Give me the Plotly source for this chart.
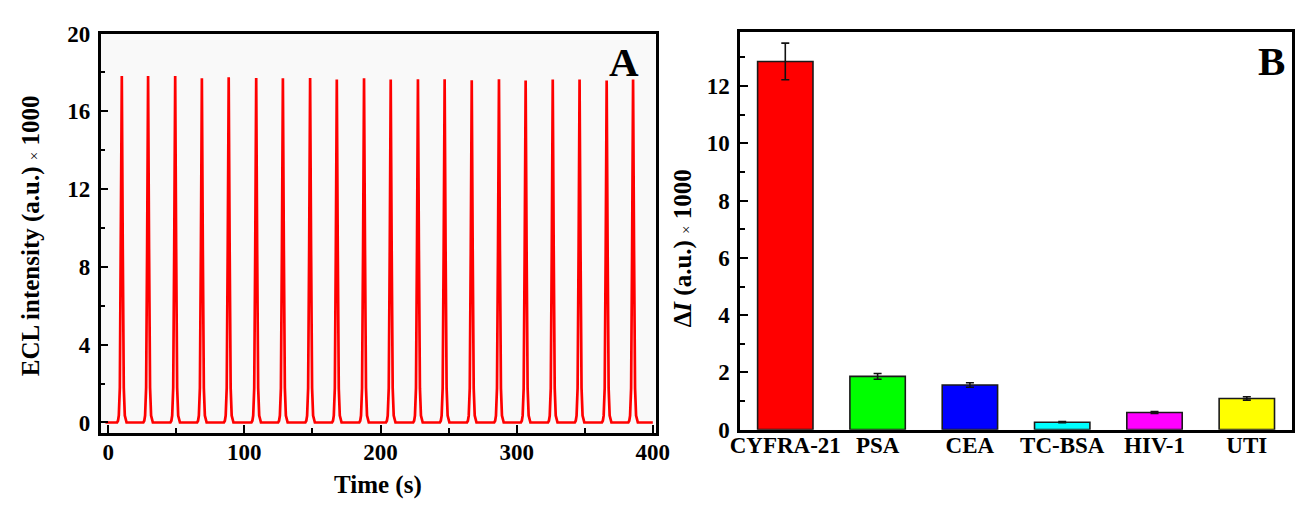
import plotly.graph_objects as go

# ---------------- Data ----------------
# Panel A: ECL peaks (time in s, peak intensity x1000)
peak_times = [10.0, 29.3, 49.2, 68.8, 88.5, 108.7, 128.3, 148.3, 167.9, 187.9,
              207.5, 227.5, 247.1, 267.0, 287.0, 306.6, 326.5, 346.2, 366.1, 385.5]
peak_heights = [17.82, 17.82, 17.82, 17.70, 17.76, 17.72, 17.70, 17.72, 17.64, 17.70,
                17.64, 17.65, 17.65, 17.60, 17.65, 17.59, 17.64, 17.64, 17.59, 17.64]
# peak profile: time offset (s) and fraction of peak height
profile_offsets = [-3.5, -2.8, -2.2, -1.45, -0.72, 0.0, 0.72, 1.45, 2.2, 2.8, 3.5]
profile_fracs = [0.0, 0.005, 0.02, 0.1, 0.5, 1.0, 0.5, 0.1, 0.02, 0.005, 0.0]
baseline_level = 0.0
time_start, time_end = -2.0, 400.0

# Panel B: selectivity bars
categories = ["CYFRA-21", "PSA", "CEA", "TC-BSA", "HIV-1", "UTI"]
delta_i = [12.86, 1.86, 1.56, 0.26, 0.60, 1.09]
delta_err = [0.64, 0.10, 0.08, 0.02, 0.03, 0.06]
bar_colors = ["#ff0000", "#00ff00", "#0000ff", "#00ffff", "#ff00ff", "#ffff00"]

# build the A trace
xs = [time_start]
ys = [baseline_level]
for t0, h in zip(peak_times, peak_heights):
    for dx, f in zip(profile_offsets, profile_fracs):
        xs.append(t0 + dx)
        ys.append(baseline_level + f * h)
xs.append(time_end)
ys.append(baseline_level)

W, H = 1309, 514


def px(v):
    return v / W


def py(v):
    return 1 - v / H


FONT = "Liberation Serif"

fig = go.Figure()
fig.add_trace(go.Scatter(x=xs, y=ys, mode="lines",
                         line=dict(color="#ff0000", width=2.7),
                         xaxis="x", yaxis="y", showlegend=False,
                         hoverinfo="skip"))
fig.add_trace(go.Bar(x=list(range(len(categories))), y=delta_i,
                     marker=dict(color=bar_colors, line=dict(color="#1a1a1a", width=1.6)),
                     width=0.6,
                     error_y=dict(type="data", array=delta_err, color="#111111",
                                  thickness=1.6, width=4),
                     xaxis="x2", yaxis="y2", showlegend=False))

tickfont = dict(family=FONT, size=23, color="black", weight="bold")
common = dict(showline=True, linecolor="black", linewidth=2.5, mirror=True,
              ticks="inside", tickcolor="black", tickwidth=2, ticklen=8,
              showgrid=False, zeroline=False, tickfont=tickfont)

fig.update_layout(
    width=W, height=H,
    margin=dict(l=0, r=0, t=0, b=0),
    paper_bgcolor="white",
    plot_bgcolor="#f9f9f9",
    xaxis=dict(domain=[px(92.4), px(657.6)], range=[-5.5, 402], anchor="y",
               tickvals=[0, 100, 200, 300, 400], ticklabelstandoff=-4,
               minor=dict(tickvals=[50, 150, 250, 350], ticks="inside",
                          ticklen=5, tickwidth=2, tickcolor="black"),
               **common),
    yaxis=dict(domain=[py(442.7), py(22.7)], range=[-0.55, 20], anchor="x",
               tickvals=[0, 4, 8, 12, 16, 20], ticklabelstandoff=3,
               minor=dict(tickvals=[2, 6, 10, 14, 18], ticks="inside",
                          ticklen=5, tickwidth=2, tickcolor="black"),
               **common),
    xaxis2=dict(domain=[px(743.7), px(1306.0)], range=[-0.49, 5.49], anchor="y2",
                tickvals=list(range(len(categories))), ticktext=categories,
                ticklabelstandoff=-7,
                **{**common, "ticks": ""}),
    yaxis2=dict(domain=[py(439.0), py(20.7)], range=[0, 13.9], anchor="x2",
                tickvals=[0, 2, 4, 6, 8, 10, 12], ticklabelstandoff=3,
                minor=dict(tickvals=[1, 3, 5, 7, 9, 11, 13], ticks="inside",
                           ticklen=5, tickwidth=2, tickcolor="black"),
                **common),
)

# panel B white background
fig.add_shape(type="rect", xref="x2 domain", yref="y2 domain", x0=0, x1=1, y0=0, y1=1,
              fillcolor="white", line=dict(width=0), layer="below")

title_font = dict(family=FONT, size=25, color="black", weight="bold")
fig.add_annotation(text="Time (s)", xref="paper", yref="paper",
                   x=px(375), y=py(497), showarrow=False,
                   font=title_font, xanchor="center", yanchor="middle")
fig.add_annotation(text="ECL intensity (a.u.) <span style='font-size:15px;font-weight:normal'>×</span> 1000",
                   xref="paper", yref="paper", x=px(21), y=py(235), showarrow=False,
                   textangle=-90, font=title_font, xanchor="center", yanchor="middle")
fig.add_annotation(text="Δ<i>I</i> (a.u.) <span style='font-size:15px;font-weight:normal'>×</span> 1000",
                   xref="paper", yref="paper", x=px(686), y=py(248), showarrow=False,
                   textangle=-90, font=title_font, xanchor="center", yanchor="middle")
panel_font = dict(family=FONT, size=41, color="black", weight="bold")
fig.add_annotation(text="A", xref="paper", yref="paper", x=px(625), y=py(53),
                   showarrow=False, font=panel_font, xanchor="center", yanchor="middle")
fig.add_annotation(text="B", xref="paper", yref="paper", x=px(1285), y=py(52),
                   showarrow=False, font=panel_font, xanchor="center", yanchor="middle")

fig.write_html("out.html", config={"displayModeBar": False},
               post_script="document.body.style.margin='0';document.body.style.overflow='hidden';")
